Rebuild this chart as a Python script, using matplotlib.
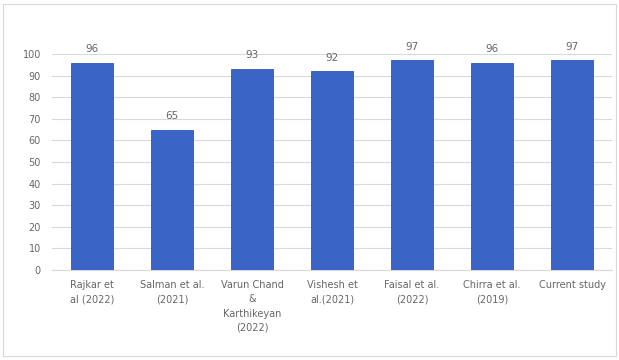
import matplotlib.pyplot as plt
from matplotlib.patches import Rectangle

studies = ['Rajkar et\nal (2022)', 'Salman et al.\n(2021)', 'Varun Chand\n&\nKarthikeyan\n(2022)',
           'Vishesh et\nal.(2021)', 'Faisal et al.\n(2022)', 'Chirra et al.\n(2019)', 'Current study']
accuracy = [96, 65, 93, 92, 97, 96, 97]

fig = plt.figure(figsize=(6.19, 3.6), dpi=100)
ax = fig.add_axes([0.084, 0.25, 0.905, 0.6])

bars = ax.bar(range(len(studies)), accuracy, width=0.52, color='#3B64C7',
              edgecolor='#3158B8', linewidth=0.6, zorder=3)
for b, v in zip(bars, accuracy):
    ax.text(b.get_x() + b.get_width() / 2, v + 4, str(v), ha='center', va='bottom',
            fontsize=7.5, color='#666666', clip_on=False)

ax.set_xlim(-0.5, len(studies) - 0.5)
ax.set_ylim(0, 100)
ax.set_yticks(range(0, 101, 10))
ax.set_xticks(range(len(studies)))
ax.set_xticklabels(studies, fontsize=7, color='#666666', linespacing=1.55)
ax.tick_params(axis='y', labelsize=7, labelcolor='#666666', length=0, pad=8)
ax.tick_params(axis='x', length=0, pad=7)
ax.grid(axis='y', color='#D9D9D9', linewidth=0.8, zorder=0)
for s in ['top', 'right', 'left']:
    ax.spines[s].set_visible(False)
ax.spines['bottom'].set_color('#D9D9D9')

fig.patches.append(Rectangle((0.005, 0.01), 0.99, 0.98, transform=fig.transFigure,
                             fill=False, edgecolor='#D9D9D9', linewidth=0.8))

fig.savefig('out.png', dpi=100)
